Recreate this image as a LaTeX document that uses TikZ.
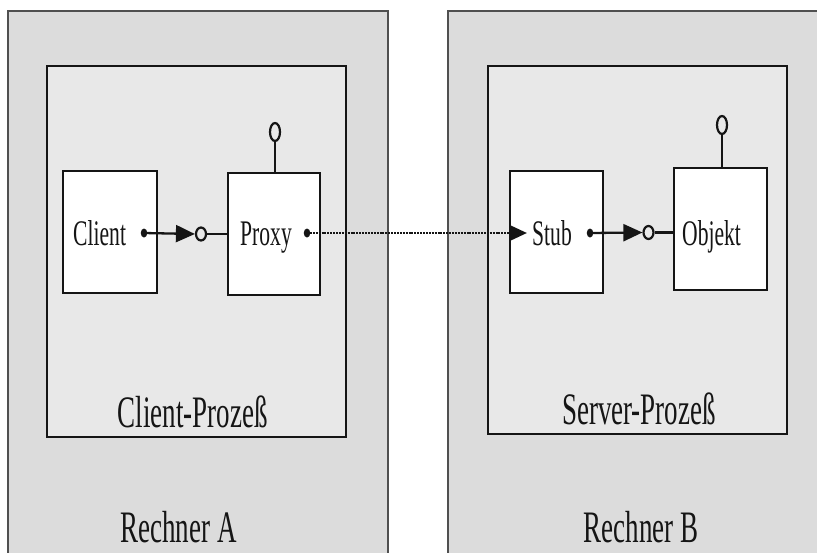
\documentclass[tikz,border=0pt]{standalone}
\usepackage{fontspec}
\setmainfont{Liberation Serif}
\usetikzlibrary{arrows.meta,shapes.geometric}
\definecolor{hostgray}{HTML}{DCDCDC}
\definecolor{procgray}{HTML}{E8E8E8}
\definecolor{inkline}{HTML}{151515}
\definecolor{hostline}{HTML}{505050}
% condensed serif lettering
\newcommand{\condensed}[2]{{\fontsize{#1}{#1}\selectfont\scalebox{0.6}[1]{#2}}}
\tikzset{
  host/.style={draw=hostline, line width=1.5pt, fill=hostgray, rectangle, inner sep=0pt},
  process/.style={draw=inkline, line width=2.8pt, fill=procgray, rectangle, inner sep=0pt},
  component/.style={draw=inkline, line width=2.8pt, fill=white, rectangle, inner sep=0pt,
    minimum height=122pt},
  ring/.style={draw=inkline, line width=2.2pt, ellipse, inner sep=0pt},
  sidering/.style={ring, minimum width=10pt, minimum height=13pt},
  topring/.style={ring, minimum width=10pt, minimum height=18pt},
  dotmark/.style={fill=inkline, ellipse, inner sep=0pt, minimum width=6.5pt, minimum height=9pt},
  wire/.style={draw=inkline, line width=2.3pt},
  call/.style={wire, -{Triangle[length=19pt,width=17pt]}},
  remote/.style={draw=inkline, line width=2.8pt, dash pattern=on 2pt off 0.9pt,
    -{Triangle[length=17pt,width=15pt]}},
  lbl/.style={inner sep=0pt, text=inkline, anchor=base west},
  biglbl/.style={inner sep=0pt, text=inkline, anchor=base},
}
\begin{document}
\begin{tikzpicture}[x=1pt, y=-1pt]
\useasboundingbox (0,0) rectangle (817,552);
\clip (0,0) rectangle (817,552);
\fill[white] (0,0) rectangle (817,552);

% the two machines
\node[host, minimum width=380pt, minimum height=559pt] (hostA) at (198,290.5) {};
\node[host, minimum width=392pt, minimum height=559pt] (hostB) at (644,290.5) {};

% the two processes
\node[process, minimum width=299pt, minimum height=371pt] (procA) at (196.5,251.5) {};
\node[process, minimum width=299pt, minimum height=368pt] (procB) at (637.5,250) {};

% components
\node[component, minimum width=94pt] (client) at (110,232) {};
\node[component, minimum width=92pt] (proxy)  at (274,234) {};
\node[component, minimum width=93pt] (stub)   at (556.5,232) {};
\node[component, minimum width=93pt] (objekt) at (720.5,229) {};

% component labels
\node[lbl] (tclient) at (73,245)  {\condensed{36}{Client}};
\node[lbl] (tproxy)  at (240,245) {\condensed{36}{Proxy}};
\node[lbl] (tstub)   at (532,245) {\condensed{36}{Stub}};
\node[lbl] (tobjekt) at (682,245) {\condensed{36}{Objekt}};

% process and machine labels
\node[biglbl] (tprocA) at (192.5,427) {\condensed{45}{Client-Prozeß}};
\node[biglbl] (tprocB) at (639,424)   {\condensed{45}{Server-Prozeß}};
\node[biglbl] (thostA) at (178.5,542) {\condensed{45}{Rechner A}};
\node[biglbl] (thostB) at (641,542)   {\condensed{45}{Rechner B}};

% interface lollipops
\node[sidering] (cring) at (201,234) {};
\node[sidering] (sring) at (648.5,232.5) {};
\node[topring]  (pring) at (275,132) {};
\node[topring]  (oring) at (722,125) {};

% call origins
\node[dotmark] (cdot) at (144,233) {};
\node[dotmark] (pdot) at (307,233) {};
\node[dotmark] (sdot) at (590,233) {};
\coordinate (stip) at (527,233);

% local calls
\draw[call] (cdot.center) -- (cring.west);
\draw[wire] (cring.east) -- (cring.east -| proxy.west);
\draw[call] (sdot.center) -- (sring.west);
\draw[wire] (sring.east) -- (sring.east -| objekt.west);

% exported interfaces
\draw[wire] (proxy.north -| pring.south) -- (pring.south);
\draw[wire] (objekt.north -| oring.south) -- (oring.south);

% remote call from proxy to stub
\draw[remote] (pdot.center) -- (stip);
\end{tikzpicture}
\end{document}
